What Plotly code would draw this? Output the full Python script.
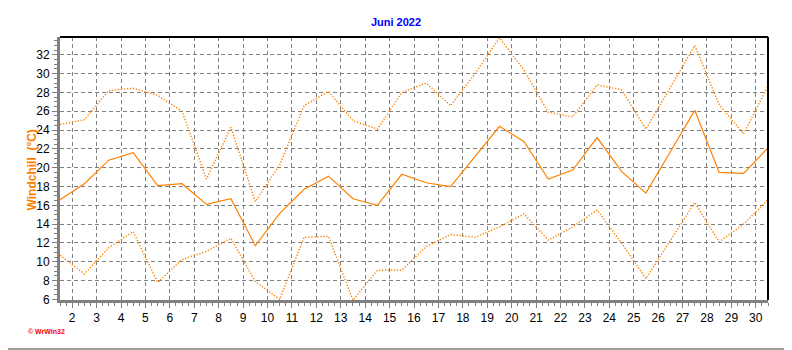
import plotly.graph_objects as go

# Data (day of June 2022, windchill °C)
days = list(range(1, 31))
wc_max = [24.6, 25.1, 28.2, 28.45, 27.7, 26.0, 18.8, 24.3, 16.4, 20.3,
          26.6, 28.1, 25.0, 24.1, 28.0, 29.0, 26.6, 30.0, 33.8, 30.4,
          25.9, 25.4, 28.8, 28.3, 24.1, 28.6, 33.0, 26.7, 23.6, 28.7]
wc_avg = [16.6, 18.3, 20.8, 21.6, 18.1, 18.3, 16.1, 16.7, 11.7, 15.15,
          17.7, 19.1, 16.7, 16.0, 19.3, 18.4, 18.0, 21.2, 24.4, 22.8,
          18.8, 19.75, 23.2, 19.6, 17.3, 21.7, 26.1, 19.5, 19.4, 22.1]
wc_min = [10.7, 8.7, 11.5, 13.2, 7.8, 10.25, 11.1, 12.5, 7.9, 6.0,
          12.6, 12.7, 5.9, 9.1, 9.1, 11.6, 12.9, 12.6, 13.7, 15.1,
          12.3, 13.7, 15.5, 12.0, 8.2, 12.3, 16.3, 12.1, 14.0, 16.6]
x_ticks = list(range(2, 31))
y_ticks = list(range(6, 33, 2))

xpos = [d + 0.5 for d in days]
ORANGE = "#FF8000"
GRID = "#808080"

fig = go.Figure()
fig.add_trace(go.Scatter(x=xpos, y=wc_max, mode="lines",
                         line=dict(color=ORANGE, width=1.4, dash="1.3px,1.7px")))
fig.add_trace(go.Scatter(x=xpos, y=wc_avg, mode="lines",
                         line=dict(color=ORANGE, width=1.2)))
fig.add_trace(go.Scatter(x=xpos, y=wc_min, mode="lines",
                         line=dict(color=ORANGE, width=1.4, dash="1.3px,1.7px")))

# page body has an 8px margin, so the figure is 8px smaller and shifted
fig.update_layout(
    width=784, height=342,
    margin=dict(l=52, r=24, t=29, b=50),
    paper_bgcolor="white", plot_bgcolor="white",
    showlegend=False,
    font=dict(family="Liberation Sans, Arial, sans-serif", size=12, color="black"),
    title=dict(text="<b>Juni 2022</b>", x=388 / 784, xref="container", xanchor="center",
               y=1 - 14 / 342, yanchor="middle",
               font=dict(color="#0000FF", size=11)),
)

fig.update_xaxes(
    range=[1.5, 30.5], tickmode="array", tickvals=x_ticks,
    ticktext=[str(v) for v in x_ticks],
    showgrid=True, gridcolor=GRID, gridwidth=1, griddash="4px,3px",
    showline=True, linecolor=GRID, linewidth=3,
    ticks="outside", ticklen=5, tickcolor=GRID, tickwidth=1,
    minor=dict(dtick=0.25, tick0=0, ticks="outside", ticklen=3, tickcolor=GRID, showgrid=False),
    zeroline=False, fixedrange=True,
)
fig.update_yaxes(
    range=[5.93, 33.9], tickmode="array", tickvals=y_ticks,
    showgrid=True, gridcolor=GRID, gridwidth=1, griddash="4px,3px",
    showline=True, linecolor=GRID, linewidth=3,
    ticks="outside", ticklen=5, tickcolor=GRID, tickwidth=1,
    minor=dict(dtick=0.5, tick0=0, ticks="outside", ticklen=3, tickcolor=GRID, showgrid=False),
    zeroline=False, fixedrange=True,
)

# top and right black border of plot area
fig.add_shape(type="line", xref="paper", yref="paper", x0=0, x1=1, y0=1, y1=1,
              line=dict(color="black", width=2))
fig.add_shape(type="line", xref="paper", yref="paper", x0=1, x1=1, y0=0, y1=1,
              line=dict(color="black", width=2))
# outer frame (right and bottom)
fig.add_shape(type="line", xref="paper", yref="paper",
              x0=(790 - 60) / 708, x1=(790 - 60) / 708, y0=(300 - 350) / 263, y1=300 / 263,
              line=dict(color="#A0A0A0", width=2))
fig.add_shape(type="line", xref="paper", yref="paper",
              x0=-60 / 708, x1=(790 - 60) / 708, y0=(300 - 349) / 263, y1=(300 - 349) / 263,
              line=dict(color="#A0A0A0", width=2))

fig.add_annotation(text="<b>Windchill&nbsp;&nbsp;(°C)</b>", textangle=-90,
                   xref="paper", yref="paper", x=(31.5 - 60) / 708, y=(300 - 170) / 263,
                   xanchor="center", yanchor="middle", showarrow=False,
                   font=dict(color=ORANGE, size=12))
fig.add_annotation(text="<b>© WrWin32</b>", xref="paper", yref="paper",
                   x=(26 - 60) / 708, y=(300 - 331) / 263,
                   xanchor="left", yanchor="middle", showarrow=False,
                   font=dict(color="#FF0000", size=7))

fig.write_html("out.html")
